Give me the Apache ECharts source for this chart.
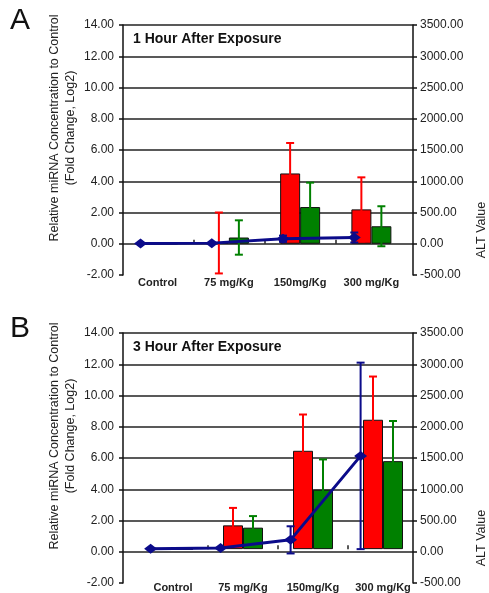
<!DOCTYPE html>
<html>
<head>
<meta charset="utf-8">
<script src="https://cdn.jsdelivr.net/npm/echarts@6/dist/echarts.min.js"></script>
<style>
  html, body { margin: 0; padding: 0; background: #fff; }
  #chart { width: 489px; height: 593px; }
</style>
</head>
<body>
<div id="chart"></div>
<script>
  // 剂量分组
  var doses = ['Control', '75 mg/Kg', '150mg/Kg', '300 mg/Kg']

  // A: 1 hour after exposure
  var red1h = [0, 0.05, 4.5, 2.2]
  var red1hErr = [0, 1.95, 1.95, 2.05]
  var green1h = [0, 0.4, 2.35, 1.12]
  var green1hErr = [0, 1.1, 1.56, 1.28]
  var alt1h = [5, 10, 80, 100]
  var alt1hErr = [0, 0, 50, 80]

  // B: 3 hour after exposure
  var red3h = [0, 1.54, 6.37, 8.38]
  var red3hErr = [0, 1.13, 2.35, 2.8]
  var green3h = [0, 1.39, 3.85, 5.7]
  var green3hErr = [0, 0.75, 1.96, 2.6]
  var alt3h = [5, 20, 150, 1510]
  var alt3hErr = [0, 0, 220, 1510]

  var FONT = 'Liberation Sans, Arial, sans-serif'
  var RED = '#ff0000'
  var GREEN = '#008000'
  var BLUE = '#0b0b8a'

  var grids = [], xAxes = [], yAxes = [], series = [], titles = [], graphics = []

  // 误差线
  function errorBars(xi, yi, points, dx, color, z) {
    return {
      type: 'custom',
      xAxisIndex: xi,
      yAxisIndex: yi,
      z: z,
      silent: true,
      data: points,
      renderItem: function (params, api) {
        var e = api.value(2)
        if (!e) return
        var top = api.coord([api.value(0), api.value(1) + e])
        var bot = api.coord([api.value(0), api.value(1) - e])
        var x = top[0] + dx
        var style = { stroke: color, lineWidth: 2 }
        return {
          type: 'group',
          children: [
            { type: 'line', shape: { x1: x, y1: top[1], x2: x, y2: bot[1] }, style: style },
            { type: 'line', shape: { x1: x - 4, y1: top[1], x2: x + 4, y2: top[1] }, style: style },
            { type: 'line', shape: { x1: x - 4, y1: bot[1], x2: x + 4, y2: bot[1] }, style: style }
          ]
        }
      }
    }
  }

  function addPanel(p) {
    var frame = grids.length
    grids.push({ left: 123, top: p.top, width: 290, height: 250 })
    var data = grids.length
    grids.push({ left: p.dataLeft, top: p.top, width: p.dataWidth, height: 250 })

    // 外框坐标轴
    xAxes.push({ type: 'value', gridIndex: frame, show: false, min: 0, max: 1 })
    yAxes.push({
      type: 'value', gridIndex: frame, position: 'left',
      min: -2, max: 14, interval: 2,
      axisLine: { show: true, lineStyle: { color: '#111', width: 1.5 } },
      axisTick: { show: true, length: 4, lineStyle: { color: '#111', width: 1.5 } },
      axisLabel: {
        margin: 9, color: '#222', fontSize: 12, fontFamily: FONT,
        formatter: function (v) { return v.toFixed(2) }
      },
      splitLine: { show: true, showMinLine: false, lineStyle: { color: '#222', width: 1.5 } }
    })
    yAxes.push({
      type: 'value', gridIndex: frame, position: 'right',
      min: -500, max: 3500, interval: 500,
      axisLine: { show: true, lineStyle: { color: '#111', width: 1.5 } },
      axisTick: { show: true, length: 4, lineStyle: { color: '#111', width: 1.5 } },
      axisLabel: {
        margin: 7, color: '#222', fontSize: 12, fontFamily: FONT,
        formatter: function (v) { return v.toFixed(2) }
      },
      splitLine: { show: false }
    })

    // 数据坐标轴
    var catX = xAxes.length
    xAxes.push({
      type: 'category', gridIndex: data, data: doses, position: 'bottom',
      axisLine: { show: false, onZero: false },
      axisTick: { show: false },
      axisLabel: { interval: 0, margin: 2, color: '#222', fontSize: 11, fontWeight: 'bold', fontFamily: FONT }
    })
    // 零线上的分组刻度
    xAxes.push({
      type: 'value', gridIndex: data, min: 0, max: 4,
      axisLine: { show: false, onZero: true },
      axisTick: { show: true, length: 4, customValues: [1, 2, 3], lineStyle: { color: '#222', width: 1.5 } },
      axisLabel: { show: false },
      splitLine: { show: false }
    })
    var lineX = xAxes.length
    xAxes.push({ type: 'value', gridIndex: data, min: -0.5, max: 3.5, show: false })
    var yL = yAxes.length
    yAxes.push({ type: 'value', gridIndex: data, min: -2, max: 14, show: false })
    var yR = yAxes.length
    yAxes.push({ type: 'value', gridIndex: data, min: -500, max: 3500, show: false })

    var barStyle = { borderColor: '#111', borderWidth: 1 }
    series.push({
      type: 'bar', xAxisIndex: catX, yAxisIndex: yL, data: p.red,
      barWidth: 20, barGap: '0%', z: 2,
      itemStyle: Object.assign({ color: RED }, barStyle)
    })
    series.push({
      type: 'bar', xAxisIndex: catX, yAxisIndex: yL, data: p.green,
      barWidth: 20, barGap: '0%', z: 2,
      itemStyle: Object.assign({ color: GREEN }, barStyle)
    })
    series.push(errorBars(catX, yL, p.red.map(function (v, i) { return [i, v, p.redErr[i]] }), -10, RED, 3))
    series.push(errorBars(catX, yL, p.green.map(function (v, i) { return [i, v, p.greenErr[i]] }), 10, GREEN, 3))

    var linePts = p.alt.map(function (v, i) { return [i + p.shift, v] })
    series.push(errorBars(lineX, yR, p.alt.map(function (v, i) { return [i + p.shift, v, p.altErr[i]] }), 0, BLUE, 4))
    series.push({
      type: 'line', xAxisIndex: lineX, yAxisIndex: yR, data: linePts, z: 5,
      symbol: 'diamond', symbolSize: [13, 10],
      lineStyle: { color: BLUE, width: 3 },
      itemStyle: { color: BLUE }
    })

    titles.push({
      text: p.title, left: 133, top: p.top + 7, padding: 0,
      textStyle: { fontSize: 14, fontWeight: 'bold', color: '#111', fontFamily: FONT }
    })
    titles.push({
      text: p.letter, left: 10, top: p.top - 19, padding: 0,
      textStyle: { fontSize: 30, fontWeight: 'normal', color: '#111', fontFamily: FONT }
    })

    graphics.push({
      type: 'text', x: 55, y: p.top + 103, rotation: Math.PI / 2,
      style: { text: 'Relative miRNA Concentration to Control', align: 'center', verticalAlign: 'middle', font: '12.5px ' + FONT, fill: '#222' }
    })
    graphics.push({
      type: 'text', x: 71, y: p.top + 103, rotation: Math.PI / 2,
      style: { text: '(Fold Change, Log2)', align: 'center', verticalAlign: 'middle', font: '12.5px ' + FONT, fill: '#222' }
    })
    graphics.push({
      type: 'text', x: 482, y: p.top + 205, rotation: Math.PI / 2,
      style: { text: 'ALT Value', align: 'center', verticalAlign: 'middle', font: '12.5px ' + FONT, fill: '#222' }
    })
  }

  addPanel({
    letter: 'A', title: '1 Hour After Exposure', top: 25, dataLeft: 122, dataWidth: 285, shift: -0.24,
    red: red1h, redErr: red1hErr, green: green1h, greenErr: green1hErr, alt: alt1h, altErr: alt1hErr
  })
  addPanel({
    letter: 'B', title: '3 Hour After Exposure', top: 333, dataLeft: 138, dataWidth: 280, shift: -0.32,
    red: red3h, redErr: red3hErr, green: green3h, greenErr: green3hErr, alt: alt3h, altErr: alt3hErr
  })

  var myChart = echarts.init(document.getElementById('chart'))
  myChart.setOption({
    animation: false,
    title: titles,
    grid: grids,
    xAxis: xAxes,
    yAxis: yAxes,
    series: series,
    graphic: graphics
  })
</script>
</body>
</html>
